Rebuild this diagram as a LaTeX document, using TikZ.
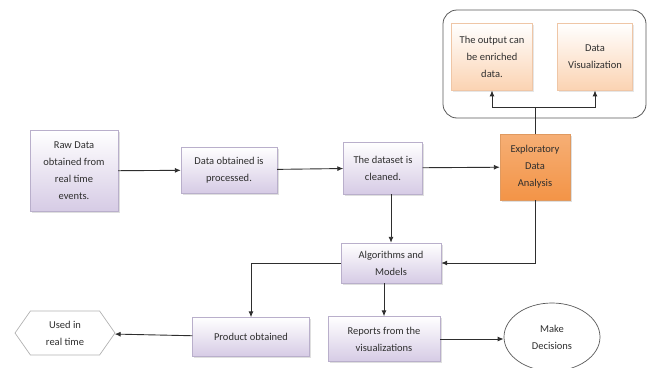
\documentclass[tikz,border=0pt]{standalone}
\usepackage{fontspec}
\setmainfont{Carlito}
\usepackage{tikz}
\usetikzlibrary{arrows.meta}
\usetikzlibrary{shadows}
\usetikzlibrary{shapes.geometric}
\usetikzlibrary{shapes.symbols}

\definecolor{lav}{HTML}{D6CBE5}
\definecolor{lavline}{HTML}{B9AFCB}
\definecolor{peach}{HTML}{FBD3B2}
\definecolor{peachline}{HTML}{EFC6A6}
\definecolor{orng}{HTML}{F39447}
\definecolor{orngline}{HTML}{E09A60}
\definecolor{ink}{HTML}{2E2E2E}

\begin{document}
\begin{tikzpicture}[x = 1pt, y = -1pt,
	font = \fontsize{10.5}{17}\selectfont, text = ink,
	box/.style = {draw = lavline, top color = white, bottom color = lav, align = center,
		drop shadow = {shadow xshift = 1.5pt, shadow yshift = -1.5pt, opacity = 0.25}},
	pbox/.style = {draw = peachline, top color = white, bottom color = peach, align = center,
		drop shadow = {shadow xshift = 1.5pt, shadow yshift = -1.5pt, opacity = 0.2}},
	link/.style = {draw = ink, line width = 0.9pt, -{Latex[length = 6pt, width = 5pt]}}]

	\useasboundingbox (0, 0) rectangle (648, 367);

	% group around the two outputs of the analysis
	\draw[gray!70!black, line width = 0.8pt, rounded corners = 14pt] (443, 10) rectangle (646, 118);

	\node[box, minimum width = 88, minimum height = 81](raw) at (74, 171){Raw Data\\obtained from\\real time\\events.};
	\node[box, minimum width = 96, minimum height = 46](proc) at (229, 170){Data obtained is\\processed.};
	\node[box, minimum width = 79, minimum height = 52](clean) at (383, 168){The dataset is\\cleaned.};
	\node[draw = orngline, top color = orng!75, bottom color = orng, align = center,
		minimum width = 70, minimum height = 66,
		drop shadow = {shadow xshift = 1.5pt, shadow yshift = -1.5pt, opacity = 0.25}](eda) at (535, 167){Exploratory\\Data\\Analysis};

	\node[pbox, minimum width = 81, minimum height = 67, anchor = north](out) at (492, 23){The output can\\be enriched\\data.};
	\node[pbox, minimum width = 75, minimum height = 67, anchor = north](viz) at (595, 23){Data\\Visualization};

	\node[box, minimum width = 100, minimum height = 40](alg) at (391, 263){Algorithms and\\Models};
	\node[box, minimum width = 117, minimum height = 39](prod) at (251, 337){Product obtained};
	\node[box, minimum width = 112, minimum height = 45](rep) at (384, 339){Reports from the\\visualizations};

	\node[draw = gray!60, line width = 0.7pt, signal, signal to = west and east, signal pointer angle = 110,
		minimum width = 100, minimum height = 44, align = center, inner xsep = 2pt](used) at (65, 333){Used in\\real time};
	\node[draw = gray!70!black, line width = 0.7pt, ellipse, minimum width = 96, minimum height = 68,
		align = center](dec) at (552, 337){Make\\Decisions};

	\coordinate(fork) at (535, 107);

	\draw[link] (raw) -- (proc);
	\draw[link] (proc) -- (clean);
	\draw[link] (clean) -- (eda);
	\draw[line width = 0.9pt, draw = ink] (eda.north) -- (fork);
	\draw[link] (fork) -| (out.south);
	\draw[link] (fork) -| (viz.south);
	\draw[link] (clean.south -| alg.north) -- (alg.north);
	\draw[link] (eda.south) |- (alg.east);
	\draw[link] (alg.west) -| (prod.north);
	\draw[link] (alg.south -| rep.north) -- (rep.north);
	\draw[link] (prod) -- (used);
	\draw[link] (rep.east) -- (rep.east -| dec.west);
\end{tikzpicture}
\end{document}
